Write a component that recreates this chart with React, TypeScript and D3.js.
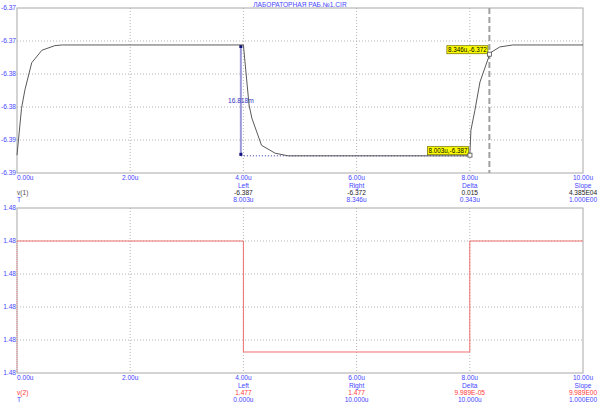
import React from "react";
import * as d3 from "d3";

const title = "ЛАБОРАТОРНАЯ РАБ.№1.CIR";
const xTicks = [0, 2, 4, 6, 8, 10];
const xTickLabels = ["0.00u", "2.00u", "4.00u", "6.00u", "8.00u", "10.00u"];

const v1Time = [0, 0.08, 0.14, 0.26, 0.44, 0.67, 0.8, 4.0, 4.1, 4.15, 4.32, 4.56, 4.79, 8.0, 8.02, 8.09, 8.18, 8.36, 8.53, 8.76, 10];
const v1Value = [-6.3898, -6.3827, -6.3799, -6.3758, -6.3739, -6.3732, -6.3731, -6.3731, -6.3822, -6.3842, -6.3883, -6.3895, -6.3899, -6.3899, -6.386, -6.383, -6.3787, -6.3743, -6.3734, -6.3731, -6.3731];
const v1Domain = [-6.3925, -6.3675];
const v1TickLabels = ["-6.37", "-6.37", "-6.38", "-6.38", "-6.39", "-6.39"];

const v2Time = [0, 4, 4, 8, 8, 10];
const v2Value = [1.48, 1.48, 1.477, 1.477, 1.48, 1.48];
const v2Domain = [1.476432, 1.480892];
const v2TickLabels = ["1.48", "1.48", "1.48", "1.48", "1.48", "1.48"];

const cursorHeads = ["Left", "Right", "Delta", "Slope"];
const cursorHeadTimes = [4, 6, 8, 10];
const v1CursorValues = ["-6.387", "-6.372", "0.015", "4.385E04"];
const v1CursorTimes = ["8.003u", "8.346u", "0.343u", "1.000E00"];
const v2CursorValues = ["1.477", "1.477", "9.989E-05", "9.989E00"];
const v2CursorTimes = ["0.000u", "10.000u", "10.000u", "1.000E00"];

const v1LeftCursor = { t: 8.003, v: -6.3898, label: "8.003u,-6.387" };
const v1RightCursor = { t: 8.346, v: -6.3745, label: "8.346u,-6.372" };
const v1Arrow = { t: 3.955, from: -6.3731, to: -6.3899, label: "16.818m" };

const FONT = "'Liberation Sans', Arial, sans-serif";
const FS = 6.6;
const BLUE = "#4646ff";
const RED = "#ff3a3a";
const GRID = "#b4b4b4";
const FRAME = "#a8a8a8";

const L = 17;
const R = 583;

function Plot({ top, bottom, domain, tickLabels, times, values, color, seriesLabel, seriesColor, curValues, curValueColor, curTimes, extra }: any) {
  const x = d3.scaleLinear().domain([0, 10]).range([L, R]);
  const y = d3.scaleLinear().domain(domain).range([bottom, top]);
  const yTicks = d3.range(6).map((i) => domain[1] - (i * (domain[1] - domain[0])) / 5);
  const line = d3
    .line<number>()
    .x((_, i) => x(times[i]))
    .y((d) => y(d));
  const rowY = (k: number) => bottom + 5 + k * 7.3 + 2.3;
  return (
    <g>
      {xTicks.slice(1, -1).map((t) => (
        <line key={"gx" + t} x1={x(t)} x2={x(t)} y1={top} y2={bottom} stroke={GRID} strokeDasharray="1,2" />
      ))}
      {yTicks.slice(1, -1).map((v, i) => (
        <line key={"gy" + i} x1={L} x2={R} y1={y(v)} y2={y(v)} stroke={GRID} strokeDasharray="1,2" />
      ))}
      <rect x={L} y={top} width={R - L} height={bottom - top} fill="none" stroke={FRAME} />
      {yTicks.map((v, i) => (
        <text key={"yl" + i} x={16} y={y(v) + 2.3} textAnchor="end" fill={BLUE} fontSize={FS} fontFamily={FONT}>
          {tickLabels[i]}
        </text>
      ))}
      {xTicks.map((t, i) => (
        <text key={"xl" + t} x={i === 0 ? L : x(t)} y={rowY(0)} textAnchor={i === 0 ? "start" : "middle"} fill={BLUE} fontSize={FS} fontFamily={FONT}>
          {xTickLabels[i]}
        </text>
      ))}
      {cursorHeads.map((h, i) => (
        <g key={"c" + i}>
          <text x={x(cursorHeadTimes[i])} y={rowY(1)} textAnchor="middle" fill={BLUE} fontSize={FS} fontFamily={FONT}>{h}</text>
          <text x={x(cursorHeadTimes[i])} y={rowY(2)} textAnchor="middle" fill={curValueColor} fontSize={FS} fontFamily={FONT}>{curValues[i]}</text>
          <text x={x(cursorHeadTimes[i])} y={rowY(3)} textAnchor="middle" fill={BLUE} fontSize={FS} fontFamily={FONT}>{curTimes[i]}</text>
        </g>
      ))}
      <text x={L} y={rowY(2)} fill={seriesColor} fontSize={FS} fontFamily={FONT}>{seriesLabel}</text>
      <text x={L} y={rowY(3)} fill={BLUE} fontSize={FS} fontFamily={FONT}>T</text>
      {extra && extra(x, y)}
      <path d={line(values) || ""} fill="none" stroke={color} strokeWidth={1} />
    </g>
  );
}

function TagBox({ px, py, label }: any) {
  const w = 41;
  const h = 8;
  return (
    <g>
      <rect x={px - w - 1.5} y={py - h - 0.5} width={w} height={h} fill="#ffff00" stroke="#7a7a00" strokeWidth={0.8} />
      <text x={px - w / 2 - 1.5} y={py - 2.3} textAnchor="middle" fill="#000" fontSize={6.3} fontFamily={FONT}>{label}</text>
      <rect x={px - 2} y={py - 2} width={4} height={4} fill="#fff" stroke="#505050" strokeWidth={0.8} />
    </g>
  );
}

export default function App() {
  const topExtra = (x: any, y: any) => (
    <g>
      <line x1={x(v1RightCursor.t)} x2={x(v1RightCursor.t)} y1={8} y2={173} stroke="#a0a0a0" strokeWidth={2} strokeDasharray="6,3" />
      <line x1={x(v1Arrow.t)} x2={x(v1LeftCursor.t)} y1={y(v1Arrow.to)} y2={y(v1Arrow.to)} stroke="#3030a0" strokeDasharray="1,2" />
      <line x1={x(v1Arrow.t)} x2={x(v1Arrow.t)} y1={y(v1Arrow.from)} y2={y(v1Arrow.to)} stroke="#9a9ad8" strokeWidth={2} />
      <rect x={x(v1Arrow.t) - 1.5} y={y(v1Arrow.from)} width={3} height={3} fill="#101080" />
      <rect x={x(v1Arrow.t) - 1.5} y={y(v1Arrow.to) - 3} width={3} height={3} fill="#101080" />
      <text x={x(v1Arrow.t)} y={(y(v1Arrow.from) + y(v1Arrow.to)) / 2 + 2.3} textAnchor="middle" fill="#3434c0" fontSize={FS} fontFamily={FONT}>{v1Arrow.label}</text>
    </g>
  );
  const x = d3.scaleLinear().domain([0, 10]).range([L, R]);
  const yTop = d3.scaleLinear().domain(v1Domain).range([173, 8]);
  const yBot = d3.scaleLinear().domain(v2Domain).range([373, 208]);
  const botExtra = (xs: any, ys: any) => (
    <line x1={xs(0)} x2={xs(0)} y1={ys(v2Value[0])} y2={373} stroke="#f08080" strokeDasharray="1,1" />
  );
  return (
    <div style={{ position: "fixed", left: 0, top: 0 }}>
      <svg width={600} height={408} style={{ display: "block", background: "#fff" }}>
        <text x={300} y={7} textAnchor="middle" fill={BLUE} fontSize={FS} fontFamily={FONT}>{title}</text>
        <Plot top={8} bottom={173} domain={v1Domain} tickLabels={v1TickLabels} times={v1Time} values={v1Value}
          color="#5a5a5a" seriesLabel="v(1)" seriesColor="#505050" curValues={v1CursorValues} curValueColor="#222"
          curTimes={v1CursorTimes} extra={topExtra} />
        <Plot top={208} bottom={373} domain={v2Domain} tickLabels={v2TickLabels} times={v2Time} values={v2Value}
          color="#f07070" seriesLabel="v(2)" seriesColor={RED} curValues={v2CursorValues} curValueColor={RED}
          curTimes={v2CursorTimes} extra={botExtra} />
        <TagBox px={x(v1LeftCursor.t)} py={yTop(v1LeftCursor.v)} label={v1LeftCursor.label} />
        <TagBox px={x(v1RightCursor.t)} py={yTop(v1RightCursor.v)} label={v1RightCursor.label} />
      </svg>
    </div>
  );
}
